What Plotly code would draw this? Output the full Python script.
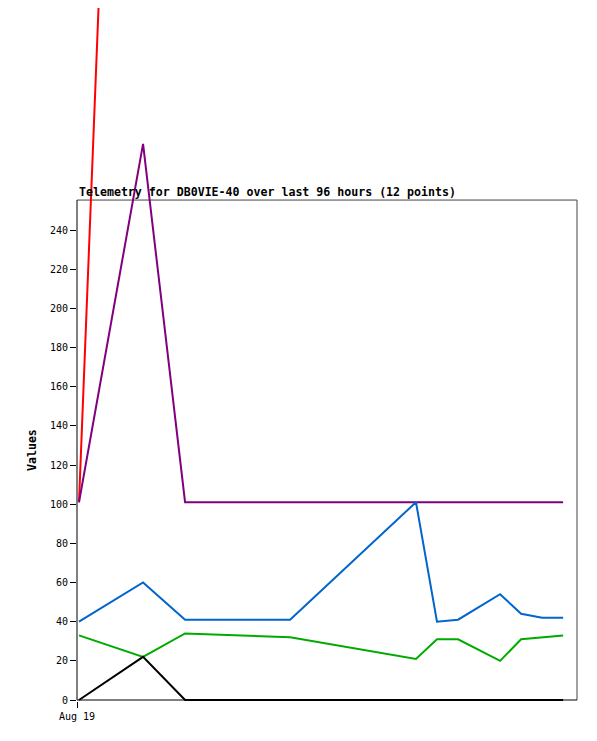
import plotly.graph_objects as go

times = ["2024-08-19 00:23", "2024-08-19 12:41", "2024-08-19 20:45", "2024-08-20 08:50",
         "2024-08-20 16:55", "2024-08-21 17:05", "2024-08-21 21:07", "2024-08-22 01:10",
         "2024-08-22 09:14", "2024-08-22 13:16", "2024-08-22 17:18", "2024-08-22 21:20"]

red_vals = [101, 930, 934, 938, 941, 950, 952, 953, 956, 958, 959, 961]
purple_vals = [101, 284, 101, 101, 101, 101, 101, 101, 101, 101, 101, 101]
blue_vals = [40, 60, 41, 41, 41, 101, 40, 41, 54, 44, 42, 42]
green_vals = [33, 22, 34, 33, 32, 21, 31, 31, 20, 31, 32, 33]
black_vals = [0, 22, 0, 0, 0, 0, 0, 0, 0, 0, 0, 0]

y_ticks = [0, 20, 40, 60, 80, 100, 120, 140, 160, 180, 200, 220, 240]
x_tick_vals = ["2024-08-19 00:00"]
x_tick_text = ["Aug 19"]

title_text = "Telemetry for DB0VIE-40 over last 96 hours (12 points)"
y_title = "Values"

frame_top = 255.3
x_range = ["2024-08-19 00:00", "2024-08-23 00:00"]
y_range = [-0.51, 353.37]

series = [
    (red_vals, "#ff0000"),
    (purple_vals, "#800080"),
    (blue_vals, "#0066cc"),
    (green_vals, "#00aa00"),
    (black_vals, "#000000"),
]

fig = go.Figure()
for vals, col in series:
    fig.add_trace(go.Scatter(x=times, y=vals, mode="lines",
                             line=dict(color=col, width=2), showlegend=False,
                             hoverinfo="skip"))

mono = "DejaVu Sans Mono"

fig.update_layout(
    width=589, height=733, autosize=False,
    margin=dict(l=69, r=20, t=0, b=40, pad=0),
    paper_bgcolor="white", plot_bgcolor="white",
    font=dict(family=mono, size=10, color="black"),
    xaxis=dict(type="date", range=x_range, tickvals=x_tick_vals, ticktext=x_tick_text,
               ticks="outside", ticklen=6, tickcolor="black", tickwidth=1,
               showgrid=False, zeroline=False, showline=False,
               tickfont=dict(family=mono, size=10, color="black")),
    yaxis=dict(range=y_range, tickvals=y_ticks, ticks="outside", ticklen=6,
               tickcolor="black", tickwidth=1, showgrid=False, zeroline=False,
               showline=False, tickfont=dict(family=mono, size=10, color="black")),
    shapes=[
        dict(type="line", xref="paper", yref="y", x0=0, x1=1, y0=frame_top, y1=frame_top,
             line=dict(color="#444444", width=1), layer="below"),
        dict(type="line", xref="paper", yref="y", x0=1, x1=1, y0=0, y1=frame_top,
             line=dict(color="#444444", width=1), layer="below"),
        dict(type="line", xref="paper", yref="y", x0=0, x1=1, y0=0, y1=0,
             line=dict(color="#000000", width=1), layer="below"),
        dict(type="line", xref="paper", yref="y", x0=0, x1=0, y0=0, y1=frame_top,
             line=dict(color="#000000", width=1), layer="below"),
    ],
    annotations=[
        dict(text="<b>" + title_text + "</b>", xref="paper", yref="y", x=0, y=frame_top,
             xanchor="left", yanchor="bottom", showarrow=False, yshift=-1,
             font=dict(family=mono, size=11.6, color="black")),
        dict(text="<b>" + y_title + "</b>", xref="paper", yref="y", x=-0.09, y=frame_top / 2,
             xanchor="center", yanchor="middle", showarrow=False, textangle=-90,
             font=dict(family=mono, size=11.6, color="black")),
    ],
)

fig.write_html("out.html")
